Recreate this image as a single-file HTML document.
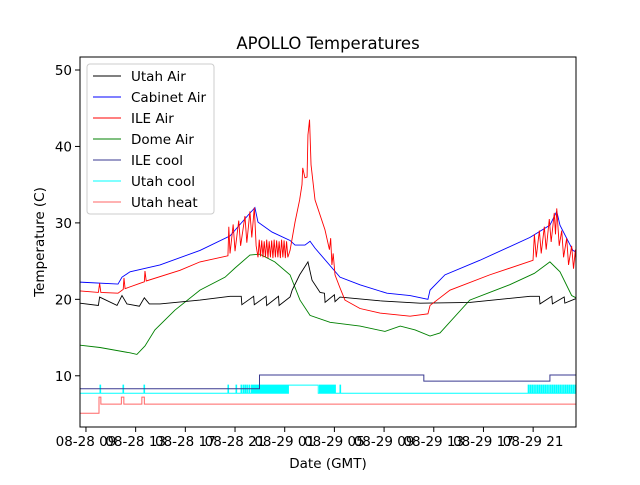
<!DOCTYPE html>
<html><head><meta charset="utf-8"><style>
body{margin:0;background:#fff}
svg text{font-family:"DejaVu Sans","Liberation Sans",sans-serif;fill:#000}
</style></head><body>
<svg id="chart" width="640" height="480" viewBox="0 0 640 480" xmlns="http://www.w3.org/2000/svg">
<rect width="640" height="480" fill="#fff"/>
<text x="328" y="49" font-size="16.5" text-anchor="middle">APOLLO Temperatures</text>
<g id="plot"></g>
<rect x="80" y="57" width="496" height="370" fill="none" stroke="#000" stroke-width="1"/>
<g id="ticks"></g>
<text x="328" y="468" font-size="13.5" text-anchor="middle">Date (GMT)</text>
<text x="0" y="0" font-size="13.5" text-anchor="middle" transform="translate(44,242) rotate(-90)">Temperature (C)</text>
<g id="legend"></g>
</svg>
<script>
// hours since 08-28 00:00
const redH=[8.52,10.0,10.1,10.2,11.58,12.0,12.06,12.15,13.35,13.7,13.75,13.85,16.57,18.18,20.43,20.5,20.6,20.85,21.0,21.3,21.45,21.8,21.95,22.2,22.35,22.55,22.7,22.85,22.95,23.05,23.15,23.25,23.35,23.45,23.55,23.65,23.75,23.85,23.95,24.05,24.15,24.25,24.35,24.45,24.55,24.65,24.75,24.85,24.95,25.05,25.15,25.25,25.43,25.83,26.2,26.39,26.45,26.63,26.8,26.87,27.0,27.12,27.44,28.24,28.6,28.7,28.8,28.9,29.05,29.45,29.85,31.06,32.67,35.09,36.53,36.7,38.3,41.5,44.99,45.1,45.25,45.5,45.65,45.9,46.05,46.3,46.45,46.7,46.8,46.9,47.1,47.3,47.45,47.7,47.85,48.1,48.25,48.4,48.45];
const redV=[21.1,20.9,22.1,20.9,20.8,21.3,22.8,21.4,22.1,22.3,23.7,22.4,23.8,24.9,25.7,29.5,26.0,29.8,26.3,30.3,27.0,30.9,27.4,31.5,28.1,32.0,27.0,25.5,27.8,25.6,27.7,25.5,27.6,25.5,27.8,25.4,27.6,25.5,27.7,25.4,27.8,25.5,27.7,25.5,27.6,25.4,27.8,25.5,27.7,25.4,27.6,25.5,26.4,30.1,33.0,35.0,37.2,35.9,36.0,41.5,43.5,37.6,33.0,29.1,26.5,28.0,24.5,26.0,23.2,21.5,19.9,18.8,18.2,17.8,18.1,19.2,21.2,23.2,25.1,28.5,25.5,29.0,26.0,29.5,26.5,30.5,27.5,31.3,28.5,31.9,27.0,29.0,25.5,28.0,24.5,27.0,24.0,26.5,24.5];
const blueH=[8.52,11.58,11.9,12.55,14.96,18.18,20.6,22.05,22.6,22.85,23.98,25.43,25.83,26.63,27.04,27.44,29.45,31.06,33.23,35.09,36.53,36.7,37.9,40.7,44.75,46.35,46.9,47.16,48.2,48.45];
const blueV=[22.25,22.0,22.9,23.6,24.5,26.4,28.3,31.0,32.0,30.1,28.8,27.7,27.1,27.1,27.6,26.7,22.9,21.9,20.8,20.5,20.0,21.2,23.2,25.1,28.1,29.7,31.5,29.7,26.4,26.2];
const greenH=[8.52,10.13,12.55,13.1,13.75,14.55,16.17,18.18,20.2,21.0,22.2,23.0,24.2,25.43,26.23,27.04,28.65,31.06,33.07,34.3,35.5,36.7,37.5,39.9,41.5,43.1,45.1,46.35,47.16,48.1,48.45];
const greenV=[14.0,13.7,13.0,12.8,13.9,16.0,18.6,21.2,22.9,24.1,25.8,25.9,24.9,23.2,19.9,17.9,17.0,16.5,15.8,16.5,16.0,15.2,15.6,19.9,20.9,21.9,23.4,24.9,23.6,20.5,20.2];
const blackH=[8.52,10.0,10.1,11.5,11.9,12.3,13.3,13.7,14.1,14.96,18.18,20.6,21.5,21.55,22.5,22.55,23.5,23.55,24.5,24.55,25.43,25.6,26.2,26.87,27.2,27.85,28.2,28.25,29.0,29.05,29.45,32.67,35.9,39.9,44.75,45.5,45.55,46.5,46.55,47.5,47.55,48.45];
const blackV=[19.5,19.2,20.3,19.2,20.5,19.4,19.1,20.2,19.4,19.4,19.9,20.4,20.4,19.3,20.4,19.3,20.4,19.2,20.4,19.2,20.3,21.2,23.2,24.9,22.5,20.9,20.8,19.6,20.6,19.7,20.3,19.8,19.5,19.6,20.4,20.4,19.4,20.4,19.4,20.3,19.5,20.1];
const ileCoolH=[8.52,22.97,36.2,46.35,48.45];
const ileCoolV=[8.3,10.1,9.3,10.1,10.1];
const utahHeatH=[8.52,10.05,10.2,11.85,12.05,13.5,13.7,48.45];
const utahHeatV=[5.1,7.2,6.3,7.2,6.3,7.2,6.3,6.3];
const coolOn=[10.13,11.98,13.67,20.43,21.08,21.48,21.65,21.8,21.95,22.12,22.3,22.45,22.6,22.75,22.9,23.05,23.2,23.35,23.5,23.65,23.8,23.95,24.1,24.25,24.4,24.55,24.7,24.85,25.0,25.15,25.3,27.8,27.95,28.1,28.25,28.4,28.55,28.7,28.85,29.0,29.45,44.6,44.75,44.9,45.05,45.2,45.35,45.5,45.65,45.8,45.95,46.1,46.25,46.4,46.55,46.7,46.85,47.0,47.15,47.3,47.45,47.6,47.75,47.9,48.05,48.2,48.35];
const coolOff=[10.18,12.03,13.72,20.48,21.13,21.53,21.7,21.85,22.0,22.17,22.38,22.53,22.68,22.83,22.98,23.13,23.28,23.43,23.58,23.73,23.88,24.03,24.18,24.33,24.48,24.63,24.78,24.93,25.08,25.23,27.7,27.88,28.03,28.18,28.33,28.48,28.63,28.78,28.93,29.08,29.5,44.65,44.8,44.95,45.1,45.25,45.4,45.55,45.7,45.85,46.0,46.15,46.3,46.45,46.6,46.75,46.9,47.05,47.2,47.35,47.5,47.65,47.8,47.95,48.1,48.25,48.42];
const coolLow=7.72, coolHigh=8.77;
const xTicks=[9,13,17,21,25,29,33,37,41,45];
const xTickLabels=["08-28 09","08-28 13","08-28 17","08-28 21","08-29 01","08-29 05","08-29 09","08-29 13","08-29 17","08-29 21"];
const yTicks=[10,20,30,40,50];

const X0=80,X1=576,Y0=57,Y1=427,HMIN=8.52,HMAX=48.45,VMIN=3.3,VMAX=51.7;
const sx=h=>X0+(h-HMIN)/(HMAX-HMIN)*(X1-X0);
const sy=v=>Y1-(v-VMIN)/(VMAX-VMIN)*(Y1-Y0);
const NS="http://www.w3.org/2000/svg";
const plot=document.getElementById('plot');
function mk(tag,attrs,parent){const e=document.createElementNS(NS,tag);for(const k in attrs)e.setAttribute(k,attrs[k]);parent.appendChild(e);return e;}
function linePath(H,V){return H.map((h,i)=>(i?'L':'M')+sx(h).toFixed(2)+' '+sy(V[i]).toFixed(2)).join(' ');}
function stepPath(H,V){let d='M'+sx(H[0])+' '+sy(V[0]);for(let i=1;i<H.length;i++){d+=' L'+sx(H[i])+' '+sy(V[i-1])+' L'+sx(H[i])+' '+sy(V[i]);}return d;}
function coolPath(){let d='M'+sx(HMIN)+' '+sy(coolLow);for(let i=0;i<coolOn.length;i++){d+=' L'+sx(coolOn[i])+' '+sy(coolLow)+' L'+sx(coolOn[i])+' '+sy(coolHigh)+' L'+sx(coolOff[i])+' '+sy(coolHigh)+' L'+sx(coolOff[i])+' '+sy(coolLow);}d+=' L'+sx(HMAX)+' '+sy(coolLow);return d;}
let p;
p=mk('path',{d:stepPath(utahHeatH,utahHeatV),fill:'none',stroke:'#ff6666','stroke-width':1},plot);


p=mk('path',{d:coolPath(),fill:'none',stroke:'#00ffff','stroke-width':1},plot);


p=mk('path',{d:stepPath(ileCoolH,ileCoolV),fill:'none',stroke:'#3a3a90','stroke-width':1},plot);


p=mk('path',{d:linePath(greenH,greenV),fill:'none',stroke:'#008000','stroke-width':0.9},plot);


p=mk('path',{d:linePath(blackH,blackV),fill:'none',stroke:'#000','stroke-width':0.9},plot);


p=mk('path',{d:linePath(blueH,blueV),fill:'none',stroke:'#0000ff','stroke-width':0.9},plot);


p=mk('path',{d:linePath(redH,redV),fill:'none',stroke:'#ff0000','stroke-width':0.9},plot);



const tk=document.getElementById('ticks');
xTicks.forEach((h,i)=>{const x=sx(h);
 const l=mk('line',{x1:x,x2:x,y1:Y1,y2:Y1+5,stroke:'#000'},tk);
 
 
 const t=mk('text',{x:x,y:446,'font-size':13.5,'text-anchor':'middle'},tk);t.textContent=xTickLabels[i];
 
 
});
yTicks.forEach(v=>{const y=sy(v);
 const l=mk('line',{x1:X0-5,x2:X0,y1:y,y2:y,stroke:'#000'},tk);
 
 
 const t=mk('text',{x:X0-8,y:y+5,'font-size':13.5,'text-anchor':'end'},tk);t.textContent=v;
 
 
});

const lg=document.getElementById('legend');
mk('rect',{x:87,y:64,width:127,height:150,rx:3,fill:'#fff','fill-opacity':0.8,stroke:'#ccc'},lg);
const legNames=["Utah Air","Cabinet Air","ILE Air","Dome Air","ILE cool","Utah cool","Utah heat"];
const legColors=["#000","#0000ff","#ff0000","#008000","#3a3a90","#00ffff","#ff6666"];
legNames.forEach((n,i)=>{const y=76+i*21;
 const l=mk('line',{x1:93,x2:121,y1:y,y2:y,stroke:legColors[i],'stroke-width':1},lg);
 
 
 const t=mk('text',{x:131,y:y+5,'font-size':13.5},lg);t.textContent=n;
 
 
});
</script>
</body></html>
